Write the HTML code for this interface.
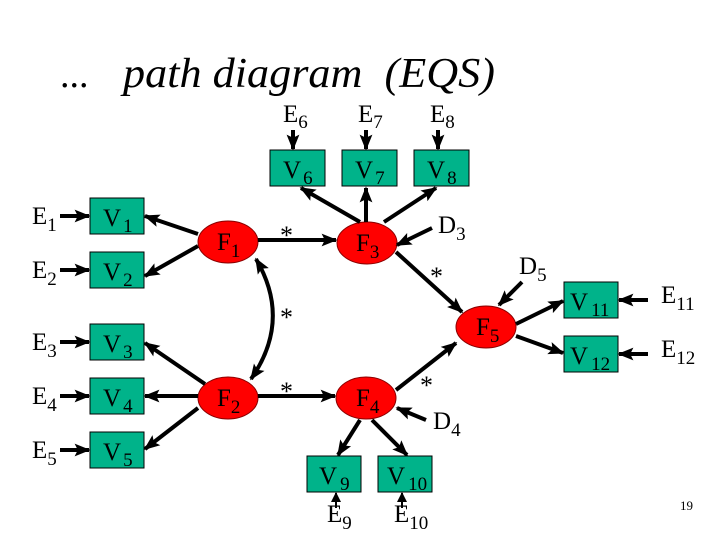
<!DOCTYPE html>
<html><head><meta charset="utf-8"><style>
html,body{margin:0;padding:0;background:#fff;}
svg{display:block;}
text{font-family:"Liberation Serif",serif;fill:#000;}
.n{font-size:25px;}
.s{font-size:19px;}
.box{fill:#00b38a;stroke:#000;stroke-width:1;}
.ell{fill:#ff0000;stroke:#8b0000;stroke-width:1;}
.a{stroke:#000;stroke-width:4;fill:none;marker-end:url(#ah);}
.t{stroke:#000;stroke-width:2;fill:none;marker-end:url(#ah2);}
</style></head><body>
<svg width="720" height="540" viewBox="0 0 720 540" xmlns="http://www.w3.org/2000/svg">
<defs>
<marker id="ah" markerWidth="4" markerHeight="4" refX="3.6" refY="1.8" orient="auto" markerUnits="strokeWidth"><path d="M0,0.2 L4,1.8 L0,3.4 L0.8,1.8z" fill="#000"/></marker>
<marker id="ah2" markerWidth="5" markerHeight="5" refX="4.5" refY="2.5" orient="auto" markerUnits="strokeWidth"><path d="M0,0 L5,2.5 L0,5z" fill="#000"/></marker>
<marker id="ahs" markerWidth="4" markerHeight="4" refX="0.4" refY="1.8" orient="auto" markerUnits="strokeWidth"><path d="M4,0.2 L0,1.8 L4,3.4 L3.2,1.8z" fill="#000"/></marker>
</defs>
<text x="60" y="87" font-size="38">...</text>
<text x="123" y="87" font-size="42" font-style="italic" textLength="372" lengthAdjust="spacingAndGlyphs" xml:space="preserve">path diagram  (EQS)</text>

<g>
<rect class="box" x="90" y="198" width="54" height="36"/>
<rect class="box" x="90" y="252" width="54" height="36"/>
<rect class="box" x="90" y="324" width="54" height="36"/>
<rect class="box" x="90" y="378" width="54" height="36"/>
<rect class="box" x="90" y="432" width="54" height="36"/>
<rect class="box" x="270" y="150" width="55" height="36"/>
<rect class="box" x="342" y="150" width="55" height="36"/>
<rect class="box" x="414" y="150" width="55" height="36"/>
<rect class="box" x="564" y="282" width="54" height="36"/>
<rect class="box" x="564" y="336" width="54" height="36"/>
<rect class="box" x="307" y="456" width="54" height="36"/>
<rect class="box" x="378" y="456" width="54" height="36"/>
</g>
<g>
<ellipse class="ell" cx="228" cy="242" rx="30" ry="21"/>
<ellipse class="ell" cx="228" cy="398" rx="30" ry="21"/>
<ellipse class="ell" cx="367" cy="243" rx="30" ry="21"/>
<ellipse class="ell" cx="366" cy="398" rx="30" ry="21"/>
<ellipse class="ell" cx="486" cy="327" rx="30" ry="21"/>
</g>

<g>
<line class="a" x1="60" y1="216" x2="89" y2="216"/>
<line class="a" x1="60" y1="270" x2="89" y2="270"/>
<line class="a" x1="60" y1="342" x2="89" y2="342"/>
<line class="a" x1="60" y1="396" x2="89" y2="396"/>
<line class="a" x1="60" y1="450" x2="89" y2="450"/>
<line class="a" x1="198" y1="234" x2="145" y2="216"/>
<line class="a" x1="198" y1="246" x2="145" y2="276"/>
<line class="a" x1="205" y1="384" x2="145" y2="343"/>
<line class="a" x1="198" y1="396" x2="145" y2="396"/>
<line class="a" x1="198" y1="408" x2="145" y2="449"/>
<line class="a" x1="258" y1="240" x2="336" y2="240"/>
<line class="a" x1="258" y1="396" x2="335" y2="396"/>
<path d="M256,259 Q292,320 251,379" stroke="#000" stroke-width="4" fill="none" marker-start="url(#ahs)" marker-end="url(#ah)"/>
<line class="a" x1="293" y1="130" x2="293" y2="149"/>
<line class="a" x1="366" y1="130" x2="366" y2="149"/>
<line class="a" x1="438" y1="130" x2="438" y2="149"/>
<line class="a" x1="360" y1="222" x2="301" y2="188"/>
<line class="a" x1="366" y1="222" x2="366" y2="188"/>
<line class="a" x1="384" y1="222" x2="436" y2="188"/>
<line class="a" x1="432" y1="228" x2="397" y2="245"/>
<line class="a" x1="396" y1="252" x2="462" y2="312"/>
<line class="a" x1="522" y1="282" x2="499" y2="305"/>
<line class="a" x1="516" y1="324" x2="563" y2="301"/>
<line class="a" x1="516" y1="336" x2="563" y2="353"/>
<line class="a" x1="648" y1="300" x2="619" y2="300"/>
<line class="a" x1="648" y1="354" x2="619" y2="354"/>
<line class="a" x1="396" y1="390" x2="456" y2="343"/>
<line class="a" x1="426" y1="420" x2="397" y2="408"/>
<line class="a" x1="360" y1="420" x2="338" y2="455"/>
<line class="a" x1="372" y1="420" x2="407" y2="455"/>
<line class="t" x1="336" y1="508" x2="336" y2="493"/>
<line class="t" x1="402" y1="508" x2="402" y2="493"/>
</g>

<g class="n">
<text x="32" y="224">E<tspan class="s" dy="7">1</tspan></text>
<text x="32" y="278">E<tspan class="s" dy="7">2</tspan></text>
<text x="32" y="350">E<tspan class="s" dy="7">3</tspan></text>
<text x="32" y="404">E<tspan class="s" dy="7">4</tspan></text>
<text x="32" y="458">E<tspan class="s" dy="7">5</tspan></text>
<text x="103" y="226">V<tspan class="s" dy="6" dx="2">1</tspan></text>
<text x="103" y="280">V<tspan class="s" dy="6" dx="2">2</tspan></text>
<text x="103" y="352">V<tspan class="s" dy="6" dx="2">3</tspan></text>
<text x="103" y="406">V<tspan class="s" dy="6" dx="2">4</tspan></text>
<text x="103" y="460">V<tspan class="s" dy="6" dx="2">5</tspan></text>
<text x="283" y="122">E<tspan class="s" dy="6">6</tspan></text>
<text x="358" y="122">E<tspan class="s" dy="6">7</tspan></text>
<text x="430" y="122">E<tspan class="s" dy="6">8</tspan></text>
<text x="283" y="178">V<tspan class="s" dy="6" dx="2">6</tspan></text>
<text x="355" y="178">V<tspan class="s" dy="6" dx="2">7</tspan></text>
<text x="427" y="178">V<tspan class="s" dy="6" dx="2">8</tspan></text>
<text x="217" y="250">F<tspan class="s" dy="7">1</tspan></text>
<text x="217" y="406">F<tspan class="s" dy="7">2</tspan></text>
<text x="356" y="251">F<tspan class="s" dy="7">3</tspan></text>
<text x="356" y="406">F<tspan class="s" dy="7">4</tspan></text>
<text x="476" y="335">F<tspan class="s" dy="7">5</tspan></text>
<text x="438" y="233">D<tspan class="s" dy="7">3</tspan></text>
<text x="519" y="274">D<tspan class="s" dy="7">5</tspan></text>
<text x="433" y="429">D<tspan class="s" dy="7">4</tspan></text>
<text x="570" y="310">V<tspan class="s" dy="6" dx="3">11</tspan></text>
<text x="570" y="364">V<tspan class="s" dy="6" dx="3">12</tspan></text>
<text x="661" y="303">E<tspan class="s" dy="7">11</tspan></text>
<text x="661" y="357">E<tspan class="s" dy="7">12</tspan></text>
<text x="319" y="484">V<tspan class="s" dy="6" dx="3">9</tspan></text>
<text x="387" y="484">V<tspan class="s" dy="6" dx="3">10</tspan></text>
<text x="327" y="522">E<tspan class="s" dy="7">9</tspan></text>
<text x="394" y="522">E<tspan class="s" dy="7">10</tspan></text>
<text x="280" y="244" font-size="26">*</text>
<text x="280" y="326" font-size="26">*</text>
<text x="280" y="400" font-size="26">*</text>
<text x="430" y="285" font-size="26">*</text>
<text x="420" y="394" font-size="26">*</text>
</g>
<text x="680" y="510" font-size="13">19</text>
</svg>
</body></html>
